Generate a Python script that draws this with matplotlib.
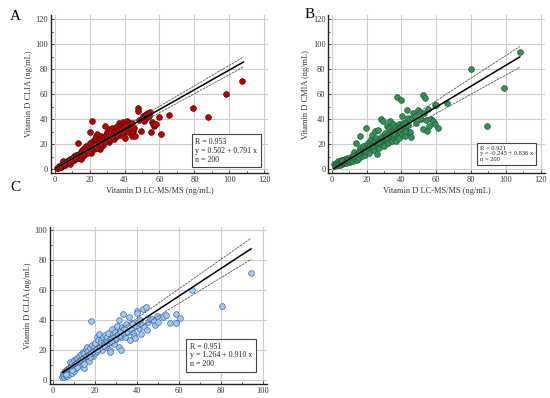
import numpy as np
import matplotlib
matplotlib.use("Agg")
import matplotlib.pyplot as plt
from matplotlib.ticker import MultipleLocator

plt.rcParams["font.family"] = ["Liberation Serif", "DejaVu Serif"]

# ---- panel A: CLIA vs LC-MS/MS ----
a_x = [1.2, 1.8, 2.3, 2.8, 3.1, 3.5, 4.0, 4.2, 4.8, 5.0, 5.3, 5.8, 6.1, 6.5, 6.9, 7.2, 7.6, 8.0, 8.3, 8.7,
       9.0, 9.3, 9.8, 10.2, 10.5, 10.9, 11.3, 11.6, 12.0, 12.4, 12.8, 13.1, 13.3, 13.7, 14.0, 14.4, 14.8, 15.1, 15.5, 15.9,
       16.2, 16.6, 17.0, 17.3, 17.7, 18.0, 18.4, 18.8, 19.2, 19.6, 20.0, 20.2, 20.5, 20.9, 21.2, 21.5, 21.9, 22.3, 22.7, 23.0,
       23.4, 23.8, 24.1, 24.5, 24.9, 25.3, 25.7, 26.0, 26.4, 26.8, 27.2, 27.6, 28.0, 28.5, 28.9, 29.3, 29.7, 30.1, 30.5, 30.9,
       31.3, 31.7, 32.1, 32.5, 32.9, 33.3, 33.7, 34.1, 34.5, 34.9, 35.3, 35.7, 36.1, 36.5, 36.9, 37.3, 37.7, 38.1, 38.5, 38.9,
       39.3, 39.7, 40.1, 40.5, 40.9, 41.3, 41.7, 42.1, 42.5, 43.0, 43.5, 44.0, 44.5, 45.0, 45.5, 46.0, 47.5, 47.8, 48.5, 49.5,
       50.0, 50.5, 51.0, 51.5, 52.0, 52.5, 53.0, 53.5, 54.0, 54.5, 55.0, 55.5, 56.0, 57.0, 58.0, 59.6, 61.0, 65.4, 79.2, 88.0,
       98.0, 107.0, 22.5, 26.5, 31.0, 35.5, 39.0, 41.0, 44.0, 33.0, 37.5, 29.0, 24.0, 19.0, 16.0, 11.5, 9.5, 7.0, 5.5, 3.0]
a_y = [1.0, 1.5, 2.5, 1.8, 3.0, 2.2, 4.5, 3.1, 3.6, 6.5, 4.2, 5.0, 3.8, 5.8, 4.9, 6.5, 5.2, 7.8, 6.0, 8.5,
       4.5, 7.2, 8.0, 6.5, 9.2, 7.6, 10.5, 8.4, 9.5, 11.8, 8.8, 21.0, 10.6, 12.5, 9.5, 11.2, 14.0, 8.5, 12.0, 15.5,
       10.8, 13.2, 17.5, 12.5, 19.0, 14.5, 16.2, 13.0, 18.0, 15.2, 30.0, 21.0, 17.0, 13.5, 39.0, 19.5, 22.5, 16.5, 20.5, 24.0,
       18.0, 26.5, 21.5, 28.5, 19.0, 23.0, 25.5, 16.5, 27.0, 21.0, 24.5, 19.5, 26.0, 22.5, 35.0, 27.5, 24.0, 30.0, 26.0, 22.0,
       28.5, 32.0, 25.0, 29.5, 33.5, 27.0, 30.5, 24.5, 31.5, 28.0, 34.0, 26.5, 32.5, 29.0, 37.0, 30.5, 27.5, 35.5, 32.0, 38.0,
       29.5, 34.0, 25.0, 36.5, 31.0, 38.5, 33.0, 30.0, 37.0, 35.0, 32.5, 29.5, 27.0, 31.0, 33.5, 27.0, 49.0, 47.0, 39.5, 31.0,
       40.5, 42.5, 39.0, 43.0, 41.0, 44.5, 42.0, 45.0, 43.0, 46.0, 30.0, 38.0, 36.0, 35.0, 36.5, 41.6, 28.5, 43.4, 49.0, 41.6,
       60.0, 70.9, 18.5, 20.0, 23.5, 29.5, 33.0, 35.5, 37.5, 26.5, 31.5, 22.0, 17.5, 14.0, 12.0, 9.0, 6.5, 5.0, 4.0, 2.0]

# ---- panel B: CMIA vs LC-MS/MS ----
b_x = [1.5, 2.0, 2.5, 3.0, 3.4, 3.8, 4.2, 4.6, 5.0, 5.4, 5.8, 6.2, 6.6, 7.0, 7.4, 7.8, 8.2, 8.6, 9.0, 9.4,
       9.8, 10.2, 10.6, 11.0, 11.4, 11.8, 12.2, 12.6, 13.0, 13.6, 13.8, 14.2, 14.6, 15.0, 15.4, 15.8, 16.2, 16.4, 16.8, 17.2,
       17.6, 18.0, 18.4, 18.8, 19.2, 19.8, 20.0, 20.4, 20.8, 21.2, 21.6, 22.0, 22.4, 22.8, 23.2, 23.6, 24.0, 24.4, 24.8, 25.2,
       25.6, 26.0, 26.4, 26.8, 27.2, 27.6, 28.0, 28.4, 28.8, 29.2, 29.6, 30.0, 30.4, 30.8, 31.2, 31.6, 32.0, 32.4, 32.8, 33.2,
       33.6, 34.0, 34.4, 34.8, 35.2, 35.6, 36.0, 36.4, 36.8, 37.2, 37.7, 38.0, 38.4, 38.8, 39.2, 39.6, 40.0, 40.4, 40.6, 41.0,
       41.4, 41.8, 42.2, 42.6, 43.0, 43.5, 44.0, 44.5, 45.1, 45.3, 46.0, 46.7, 47.5, 48.5, 49.5, 50.5, 51.0, 52.2, 53.4, 52.5,
       53.0, 54.0, 54.5, 55.5, 56.0, 57.0, 58.0, 59.0, 59.5, 60.1, 61.0, 65.9, 79.9, 88.9, 98.9, 108.1, 6.0, 9.0, 12.0, 15.5,
       19.0, 23.0, 27.0, 31.0, 35.0, 39.0, 42.0]
b_y = [4.0, 3.0, 5.5, 4.5, 3.2, 6.5, 5.0, 3.8, 6.0, 7.2, 4.5, 5.5, 7.5, 4.8, 6.2, 8.0, 5.5, 7.0, 9.0, 6.0,
       8.2, 5.8, 9.5, 7.2, 11.0, 8.5, 6.5, 14.0, 9.5, 21.5, 11.5, 7.8, 12.5, 10.0, 14.5, 9.0, 17.0, 26.5, 12.0, 15.5,
       10.5, 18.5, 13.5, 16.0, 11.5, 32.8, 20.5, 14.5, 17.5, 22.0, 13.0, 19.5, 24.5, 16.0, 27.5, 20.0, 15.5, 22.5, 30.5, 18.5,
       25.0, 12.5, 21.0, 31.5, 17.5, 24.0, 20.0, 40.2, 27.0, 22.0, 39.0, 19.0, 25.5, 29.0, 23.5, 35.0, 21.0, 28.0, 33.0, 24.5,
       38.5, 27.5, 22.5, 31.0, 36.0, 25.0, 29.5, 34.0, 23.0, 27.0, 57.6, 32.0, 36.5, 25.5, 30.0, 55.4, 34.5, 28.0, 42.5, 37.0,
       31.5, 26.5, 33.5, 38.0, 47.5, 41.0, 35.5, 30.0, 29.6, 25.6, 41.5, 44.8, 43.0, 37.0, 47.5, 46.0, 40.0, 59.2, 57.0, 32.5,
       45.5, 39.5, 30.5, 48.0, 35.0, 40.0, 38.5, 36.5, 51.5, 51.4, 33.0, 52.8, 80.2, 34.9, 65.3, 93.8, 6.8, 7.5, 10.5, 13.0,
       15.0, 18.5, 22.0, 26.0, 28.5, 33.0, 31.0]

# ---- panel C: CLIA vs LC-MS/MS ----
c_x = [4.2, 4.5, 4.8, 5.0, 5.3, 5.6, 5.9, 6.2, 6.5, 6.8, 7.1, 7.4, 7.7, 8.0, 8.3, 8.6, 8.9, 9.2, 9.5, 9.8,
       10.1, 10.4, 10.7, 11.0, 11.3, 11.6, 11.9, 12.2, 12.5, 12.8, 13.1, 13.4, 13.7, 14.0, 14.3, 14.6, 14.9, 15.2, 15.5, 15.8,
       16.1, 16.4, 16.7, 17.0, 17.3, 17.6, 18.0, 18.2, 18.5, 18.8, 19.1, 19.4, 19.8, 20.2, 20.6, 21.0, 21.4, 21.8, 22.2, 22.6,
       23.0, 23.4, 23.8, 24.2, 24.6, 25.0, 25.4, 25.8, 26.2, 26.6, 27.0, 27.3, 27.6, 28.0, 28.4, 28.8, 29.2, 29.6, 30.0, 30.4,
       30.8, 31.2, 31.4, 31.8, 32.2, 32.4, 32.8, 33.3, 33.6, 34.0, 34.5, 35.0, 35.5, 36.0, 36.5, 37.0, 37.5, 38.0, 38.5, 39.0,
       39.4, 39.8, 40.2, 40.6, 41.0, 41.5, 42.0, 42.5, 43.0, 43.5, 44.1, 44.6, 45.2, 46.0, 47.0, 48.2, 48.8, 49.5, 50.2, 52.5,
       54.1, 55.7, 58.6, 58.6, 60.5, 66.2, 80.8, 94.6, 6.0, 9.0, 11.5, 14.5, 17.8, 21.0, 24.5, 27.8]
c_y = [2.0, 3.5, 5.0, 2.5, 4.2, 6.5, 3.2, 5.5, 7.5, 2.8, 6.0, 8.5, 4.0, 12.0, 7.0, 9.5, 5.0, 11.5, 8.0, 13.5,
       6.5, 10.5, 14.0, 8.5, 12.0, 15.0, 9.5, 13.0, 16.5, 11.0, 14.5, 17.5, 12.5, 19.0, 15.0, 8.5, 18.0, 13.5, 21.0, 16.5,
       22.5, 14.0, 19.5, 17.0, 13.0, 21.5, 39.5, 18.5, 23.5, 16.0, 20.5, 22.0, 18.0, 24.5, 21.0, 29.0, 26.5, 31.0, 22.5, 27.0,
       25.0, 20.5, 28.5, 24.0, 30.0, 26.5, 22.0, 29.0, 31.5, 25.0, 20.0, 18.8, 28.0, 34.0, 26.0, 30.5, 24.0, 32.0, 27.5, 36.0,
       30.0, 22.5, 40.2, 33.0, 28.5, 20.3, 35.5, 43.9, 30.5, 34.5, 29.0, 37.5, 32.0, 42.0, 27.0, 34.0, 38.0, 31.5, 29.5, 28.0,
       36.0, 46.0, 44.5, 38.5, 34.5, 40.0, 31.0, 37.0, 47.4, 35.7, 48.5, 33.7, 39.0, 41.0, 40.5, 39.5, 36.5, 43.0, 38.7, 42.1,
       43.4, 38.3, 38.3, 43.9, 41.2, 60.0, 49.4, 71.4, 4.5, 7.0, 9.0, 11.0, 15.5, 19.5, 23.0, 26.0]

# regression fits and confidence band half-widths at line start / end
fits = {
    "A": dict(a=0.502, b=0.791, r=0.953, xr=(1.0, 108.0), hw=(0.8, 4.0)),
    "B": dict(a=-0.245, b=0.836, r=0.921, xr=(1.0, 108.0), hw=(1.2, 8.3)),
    "C": dict(a=1.264, b=0.910, r=0.951, xr=(4.5, 94.5), hw=(1.3, 7.0)),
}


def draw(ax, x, y, key, fc, ec, ylabel, xlabel, xlim, ylim, xmax_tick, ymax_tick, box_pos, box_fs):
    f = fits[key]
    ax.scatter(x, y, s=17, c=fc, edgecolors=ec, linewidths=0.5, zorder=3)
    xs = np.array(f["xr"])
    ys = f["a"] + f["b"] * xs
    hw = np.array(f["hw"])
    ax.plot(xs, ys, color="black", lw=1.1, zorder=4)
    ax.plot(xs, ys + hw, color="#555555", lw=0.6, ls=(0, (3, 1)), zorder=4)
    ax.plot(xs, ys - hw, color="#555555", lw=0.6, ls=(0, (3, 1)), zorder=4)

    ax.set_xlim(*xlim)
    ax.set_ylim(*ylim)
    ax.set_xticks(np.arange(0, xmax_tick + 1, 20))
    ax.set_yticks(np.arange(0, ymax_tick + 1, 20))
    ax.xaxis.set_minor_locator(MultipleLocator(10))
    ax.yaxis.set_minor_locator(MultipleLocator(10))
    ax.grid(True, which="major", color="#cccccc", lw=0.8, zorder=0)
    ax.set_axisbelow(True)
    ax.tick_params(which="both", direction="in", labelsize=6, colors="#333333", length=2.5, width=0.6, pad=2)
    ax.tick_params(which="minor", length=1.5)
    for s in ["top", "right"]:
        ax.spines[s].set_visible(False)
    for s in ["left", "bottom"]:
        ax.spines[s].set_linewidth(1.0)
        ax.spines[s].set_color("#222222")
    ax.set_ylabel(ylabel, fontsize=6, color="#333333", labelpad=2)
    if xlabel:
        ax.set_xlabel(xlabel, fontsize=6, color="#333333", labelpad=2)

    txt = "R = %.3f\ny = %s%.3f + %.3f x\nn = 200" % (f["r"], "" if f["a"] >= 0 else "-", abs(f["a"]), f["b"])
    ax.text(box_pos[0], box_pos[1], txt, transform=ax.transAxes, fontsize=box_fs, ha="left", va="bottom",
            linespacing=1.15, color="#222222", zorder=5,
            bbox=dict(boxstyle="square,pad=0.45", fc="white", ec="#444444", lw=0.8))


fig = plt.figure(figsize=(5.5, 3.98), dpi=100)
axA = fig.add_axes([0.093, 0.565, 0.394, 0.397])
axB = fig.add_axes([0.597, 0.565, 0.394, 0.397])
axC = fig.add_axes([0.091, 0.035, 0.394, 0.395])

draw(axA, a_x, a_y, "A", "#c00000", "#5a0000", "Vitamin D CLIA (ng/mL)", "Vitamin D LC-MS/MS (ng/mL)",
     (-2, 122), (-3, 123.5), 120, 120, (0.665, 0.06), 5.7)
draw(axB, b_x, b_y, "B", "#2f9558", "#1a5a33", "Vitamin D CMIA (ng/mL)", "Vitamin D LC-MS/MS (ng/mL)",
     (-2, 122.5), (-3, 123.5), 120, 120, (0.7, 0.07), 4.7)
draw(axC, c_x, c_y, "C", "#a3c8ee", "#3a6db0", "Vitamin D CLIA (ng/mL)", None,
     (-1.5, 102), (-2.4, 101.8), 100, 100, (0.645, 0.1), 5.7)

fig.text(0.018, 0.975, "A", fontsize=11, va="top")
fig.text(0.553, 0.98, "B", fontsize=11, va="top")
fig.text(0.018, 0.545, "C", fontsize=11, va="top")

fig.savefig("out.png", dpi=100)
